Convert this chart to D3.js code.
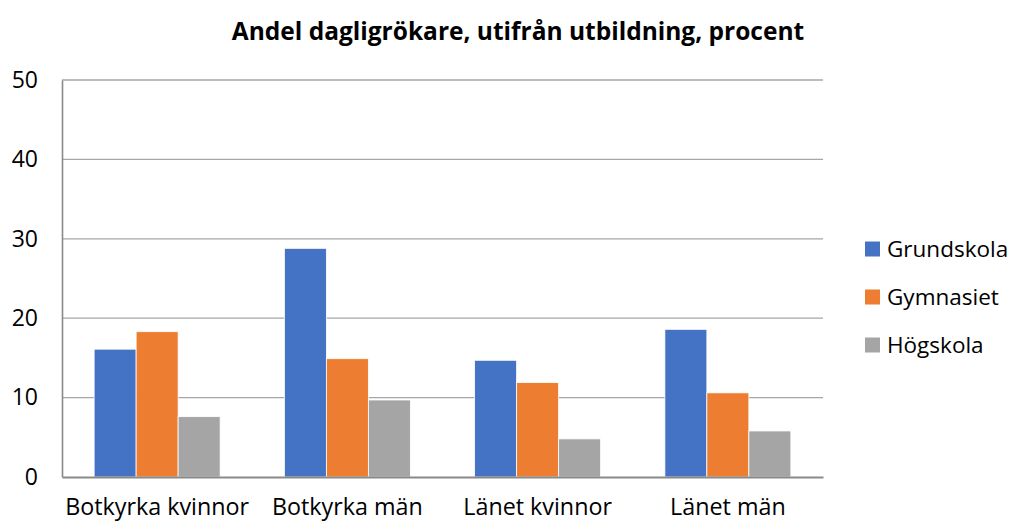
<!DOCTYPE html>
<html><head><meta charset="utf-8">
<script src="https://cdn.jsdelivr.net/npm/d3@7"></script>
<style>body{margin:0;background:#fff}svg{display:block}text{font-family:"Open Sans",sans-serif}</style>
</head><body><svg id="c" width="1011" height="522"></svg>
<script>
const categories = ["Botkyrka kvinnor","Botkyrka män","Länet kvinnor","Länet män"];
const seriesNames = ["Grundskola","Gymnasiet","Högskola"];
const grundskola = [16.1, 28.8, 14.7, 18.6];
const gymnasiet = [18.3, 14.9, 11.9, 10.6];
const hogskola = [7.6, 9.7, 4.8, 5.8];
const yTicks = [0,10,20,30,40,50];
const colors = ["#4472c4","#ed7d31","#a5a5a5"];
const title = "Andel dagligrökare, utifrån utbildning, procent";

const series = [grundskola, gymnasiet, hogskola];
const svg = d3.select("#c");
const L=62, R=823, T=80, B=477;
const p=0.3377;
const FF = "'Open Sans',sans-serif";
const x0 = d3.scaleBand().domain(categories).range([L,R]).paddingInner(p).paddingOuter(p/2);
const x1 = d3.scaleBand().domain(seriesNames).range([0,x0.bandwidth()]);
const y = d3.scaleLinear().domain([0,50]).range([B,T]);

// gridlines
svg.append("g").selectAll("line").data(yTicks.filter(d=>d>0)).join("line")
  .attr("x1",L).attr("x2",R).attr("y1",d=>y(d)).attr("y2",d=>y(d))
  .attr("stroke","#a6a6a6").attr("stroke-width",1.3);

// bars
series.forEach((vals,si)=>{
  svg.append("g").selectAll("rect").data(vals).join("rect")
    .attr("x",(d,i)=>x0(categories[i])+x1(seriesNames[si]))
    .attr("width",x1.bandwidth())
    .attr("y",d=>y(d)).attr("height",d=>B-y(d))
    .attr("fill",colors[si]).attr("stroke","#fff").attr("stroke-width",0.8);
});

// y axis
const ya = svg.append("g").attr("transform",`translate(${L},0)`).call(d3.axisLeft(y).tickValues(yTicks).tickSize(0).tickPadding(24));
ya.select(".domain").attr("stroke","#898989").attr("stroke-width",1.6);
ya.selectAll("text").attr("font-size",23).attr("fill","#000").style("font-family",FF);

// x axis
const xa = svg.append("g").attr("transform",`translate(0,${B})`).call(d3.axisBottom(x0).tickSize(0).tickPadding(0));
xa.select(".domain").attr("stroke","#898989").attr("stroke-width",2.2);
xa.selectAll("text").attr("font-size",23.3).attr("fill","#000").attr("y",38).attr("dy",0).style("font-family",FF);

// title
svg.append("text").attr("x",518).attr("y",40).attr("text-anchor","middle")
  .attr("font-size",24.5).attr("font-weight","bold").attr("fill","#000").style("font-family",FF).text(title);

// legend
const lg = svg.append("g");
seriesNames.forEach((n,i)=>{
  const cy = 249 + i*48;
  lg.append("rect").attr("x",865).attr("y",cy-7.5).attr("width",15).attr("height",15).attr("fill",colors[i]);
  lg.append("text").attr("x",887).attr("y",cy).attr("dy","0.35em").attr("font-size",22.5).attr("fill","#000").style("font-family",FF).text(n);
});
</script></body></html>
